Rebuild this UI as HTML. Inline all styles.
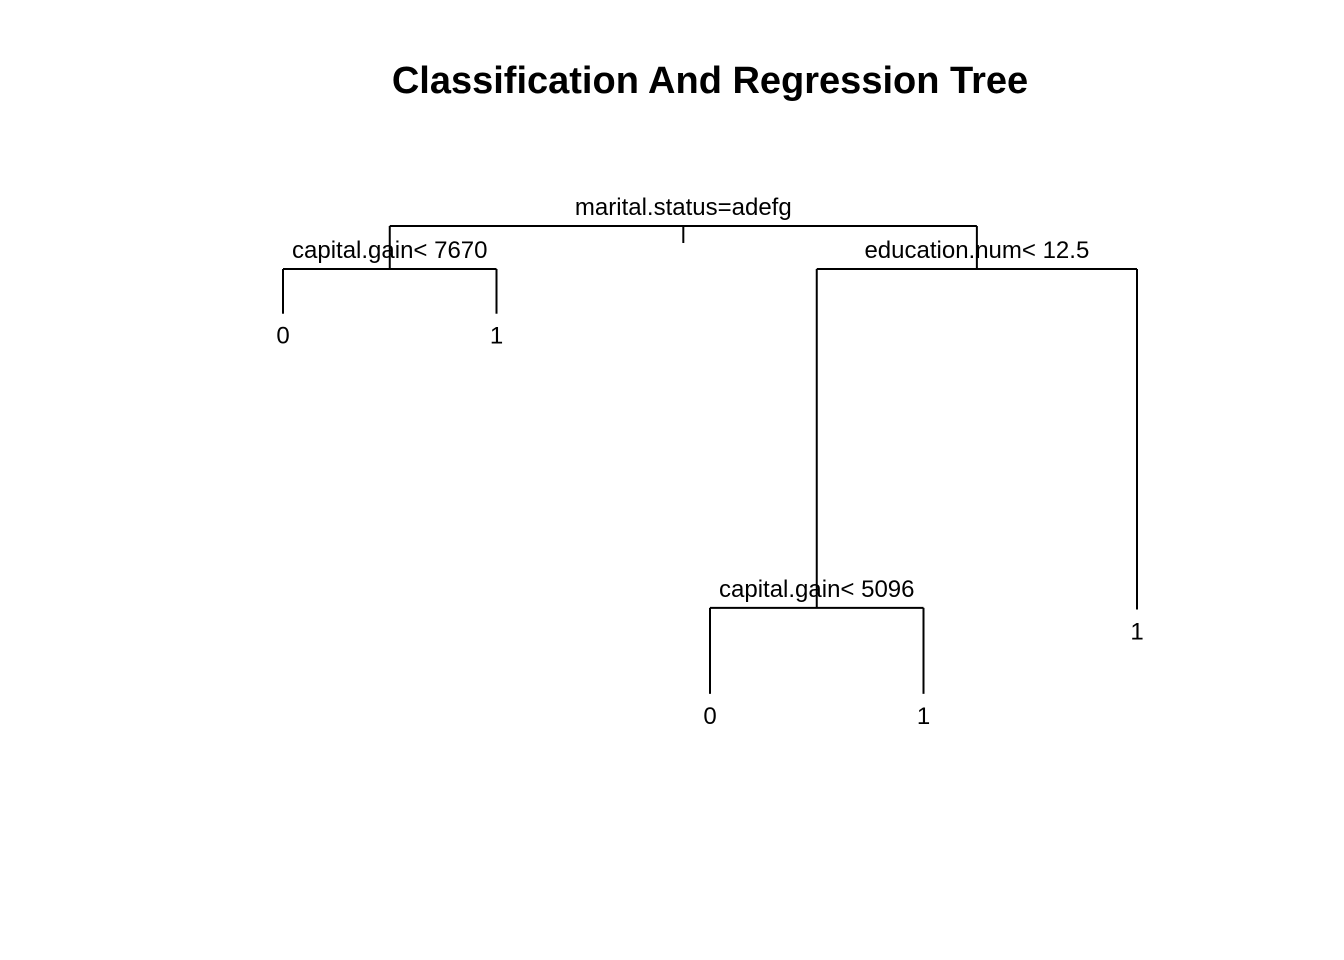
<!DOCTYPE html>
<html><head><meta charset="utf-8"><style>
body{margin:0;background:#fff}
svg{display:block}
text{font-family:"Liberation Sans",Arial,sans-serif;fill:#000}
</style></head><body>
<svg id="chart" width="1344" height="960" viewBox="0 0 1344 960">
<rect width="1344" height="960" fill="#fff"/>
<text x="710" y="93" text-anchor="middle" font-size="38" font-weight="bold">Classification And Regression Tree</text>
<g id="tree"></g>
</svg>
<script>
// node ids, parent links, split labels, leaf labels, vertical positions (data units)
const nodeIds = [1, 2, 3, 4, 5, 6, 7, 12, 13];
const parents = [0, 1, 1, 2, 2, 3, 3, 6, 6];
const splitLabels = {1: "marital.status=adefg", 2: "capital.gain< 7670", 3: "education.num< 12.5", 6: "capital.gain< 5096"};
const leafLabels = {4: "0", 5: "1", 12: "0", 13: "1", 7: "1"};
const nodeDepth = [0, 0.5, 0.5, 1.02, 1.02, 4.44, 4.46, 5.44, 5.44];
const leafOrder = [4, 5, 12, 13, 7];

const xScale = i => 283 + i * 213.5;
const yScale = v => 226 + v * 86;
const g = document.getElementById('tree');
const NS = 'http://www.w3.org/2000/svg';
const pos = {};
const depthOf = id => nodeDepth[nodeIds.indexOf(id)];
function children(id){ return nodeIds.filter((n,i)=>parents[i]===id); }
function xOf(id){
  if (pos[id] !== undefined) return pos[id];
  const li = leafOrder.indexOf(id);
  if (li >= 0) return pos[id] = xScale(li);
  const c = children(id);
  return pos[id] = (xOf(c[0]) + xOf(c[1])) / 2;
}
function line(x1,y1,x2,y2,name){
  const l = document.createElementNS(NS,'line');
  l.setAttribute('x1',x1);l.setAttribute('y1',y1);l.setAttribute('x2',x2);l.setAttribute('y2',y2);
  l.setAttribute('stroke','#000');l.setAttribute('stroke-width','2');
  
  
  g.appendChild(l);
}
function text(x,y,s,name){
  const t = document.createElementNS(NS,'text');
  t.setAttribute('x',x);t.setAttribute('y',y);t.setAttribute('text-anchor','middle');t.setAttribute('font-size','24');
  t.textContent = s;
  
  
  g.appendChild(t);
}
nodeIds.forEach(id=>{
  const c = children(id);
  const x = xOf(id), y = yScale(depthOf(id));
  if (c.length){
    const xl = xOf(c[0]), xr = xOf(c[1]);
    line(xl, y, xr, y, 'split-bar-' + id);
    c.forEach(ch=> line(xOf(ch), y, xOf(ch), yScale(depthOf(ch)), 'branch-' + ch));
    text(x, y - 11, splitLabels[id], 'split-label-' + id);
  } else {
    text(x, yScale(depthOf(id)) + 30, leafLabels[id], 'leaf-label-' + id);
  }
});
// root marker tick
line(xOf(1), yScale(0), xOf(1), yScale(0) + 17, 'root-marker');
</script>
</body></html>
